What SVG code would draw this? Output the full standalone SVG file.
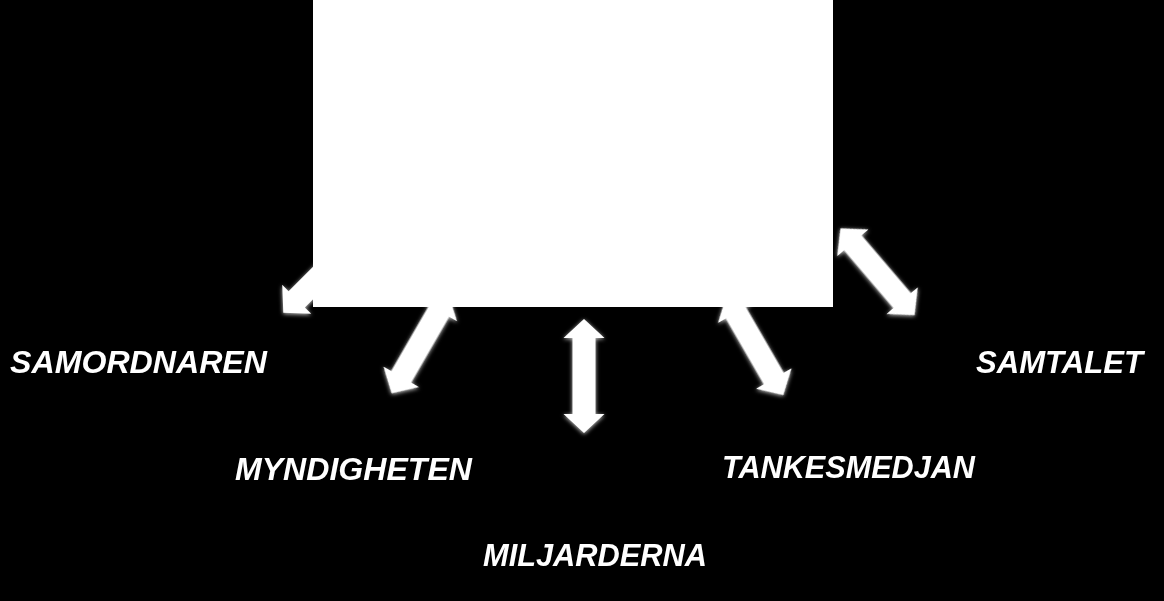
<svg xmlns="http://www.w3.org/2000/svg" xmlns:xlink="http://www.w3.org/1999/xlink" width="1164" height="601" viewBox="0 0 1164 601">
  <style>
    .lbl { font-family: "Liberation Sans", Arial, sans-serif; font-weight: bold; font-style: italic; font-size: 31px; fill: #ffffff; }
    .arr { fill: #ffffff; }
  </style>
  <defs>
    <filter id="glow" x="-30%" y="-30%" width="160%" height="160%">
      <feDropShadow dx="0" dy="1" stdDeviation="2" flood-color="#ffffff" flood-opacity="0.8"/>
    </filter>
    <path id="dbl" d="M0,-57 L20.5,-38 L11.5,-38 L11.5,38 L20.5,38 L0,57 L-20.5,38 L-11.5,38 L-11.5,-38 L-20.5,-38 Z"/>
  </defs>
  <rect width="1164" height="601" fill="#000000"/>
  <g id="connectors" class="arr" filter="url(#glow)">
    <use xlink:href="#dbl" transform="translate(323.6,272.4) rotate(45)"/>
    <use xlink:href="#dbl" transform="translate(420.2,343.9) rotate(30)"/>
    <use xlink:href="#dbl" transform="translate(584,376)"/>
    <use xlink:href="#dbl" transform="translate(754.8,345.6) rotate(-30)"/>
    <use xlink:href="#dbl" transform="translate(877.5,271.7) rotate(-40.5)"/>
  </g>
  <g id="center">
    <rect x="313" y="0" width="520" height="307" fill="#ffffff"/>
  </g>
  <g id="samordnaren"><text class="lbl" x="10" y="373" textLength="257" lengthAdjust="spacingAndGlyphs">SAMORDNAREN</text></g>
  <g id="myndigheten"><text class="lbl" x="235" y="480" textLength="237" lengthAdjust="spacingAndGlyphs">MYNDIGHETEN</text></g>
  <g id="miljarderna"><text class="lbl" x="483" y="566" textLength="224" lengthAdjust="spacingAndGlyphs">MILJARDERNA</text></g>
  <g id="tankesmedjan"><text class="lbl" x="722" y="478" textLength="253" lengthAdjust="spacingAndGlyphs">TANKESMEDJAN</text></g>
  <g id="samtalet"><text class="lbl" x="976" y="373" textLength="167" lengthAdjust="spacingAndGlyphs">SAMTALET</text></g>
</svg>
